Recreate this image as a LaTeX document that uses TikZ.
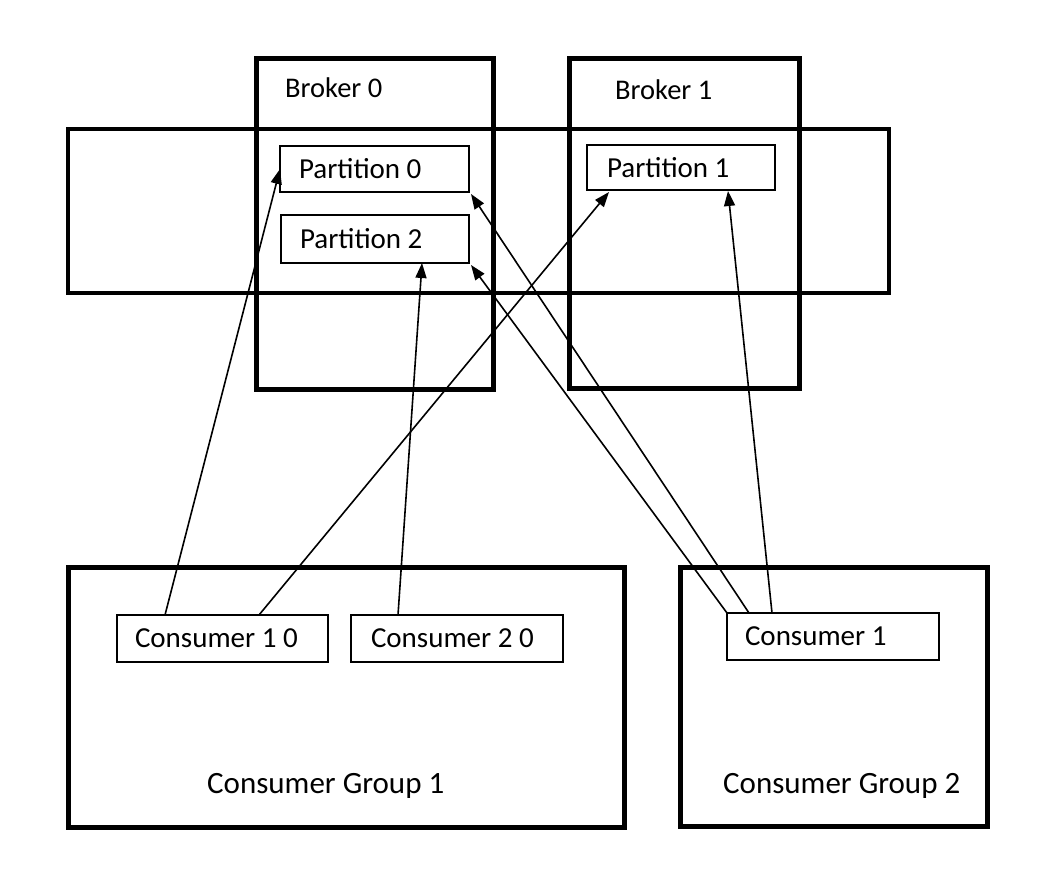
\documentclass[tikz,border=0pt]{standalone}
\usepackage{fontspec}
\setmainfont{Carlito}
\usetikzlibrary{arrows.meta,calc}
\begin{document}
\begin{tikzpicture}[x=1pt,y=-1pt,
  lbl/.style={font=\fontsize{28.5}{32}\selectfont, inner sep=0pt, anchor=base west},
  glbl/.style={font=\fontsize{31}{35}\selectfont, inner sep=0pt, anchor=base west},
  smallbox/.style={draw, line width=2pt, outer sep=0pt, inner xsep=19pt, inner ysep=0pt, align=flush left, anchor=north west, font=\fontsize{29}{33}\selectfont},
  thickbox/.style={draw, line width=5pt, outer sep=0pt, inner sep=0pt, anchor=north west},
  topicbox/.style={draw, line width=3.5pt, outer sep=0pt, inner sep=0pt, anchor=north west},
  conn/.style={line width=1.6pt, -{Triangle[length=15pt,width=11pt]}}]
\useasboundingbox (0,0) rectangle (1056,894);
% topic
\node[topicbox, minimum width=821pt, minimum height=164pt] (topic) at (68,129) {};
% brokers
\node[thickbox, minimum width=237pt, minimum height=331pt] (b0) at (256,58) {};
\node[thickbox, minimum width=230pt, minimum height=330pt] (b1) at (569,58) {};
\node[lbl] (b0lbl) at (285,97) {Broker 0};
\node[lbl] (b1lbl) at (615,99) {Broker 1};
% partitions
\node[smallbox, minimum height=46pt, text width=151pt] (p0) at (280,146) {Partition 0};
\node[smallbox, minimum height=48pt, text width=150pt] (p2) at (281,215) {Partition 2};
\node[smallbox, minimum height=45pt, inner xsep=20pt, text width=148pt] (p1) at (587,145) {Partition 1};
% consumer groups
\node[thickbox, minimum width=556pt, minimum height=260pt] (g1) at (68,567) {};
\node[thickbox, minimum width=307pt, minimum height=259pt] (g2) at (680,567) {};
\node[glbl] (g1lbl) at (207,793) {Consumer Group 1};
\node[glbl] (g2lbl) at (723,793) {Consumer Group 2};
% consumers
\node[smallbox, minimum height=47pt, inner xsep=18pt, text width=175pt] (c10) at (117,615) {Consumer 1 0};
\node[smallbox, minimum height=47pt, inner xsep=20pt, text width=172pt] (c20) at (351,615) {Consumer 2 0};
\node[smallbox, minimum height=47pt, inner xsep=18pt, text width=176pt] (c1) at (727,613) {Consumer 1};
% connectors
\draw[conn] ($(c10.north west)+(48,0)$) -- (p0.west);
\draw[conn] ($(c10.north west)+(142,0)$) -- ($(p1.south west)+(22,2)$);
\draw[conn] ($(c20.north west)+(47,0)$) -- ($(p2.south west)+(141,0)$);
\draw[conn] ($(c1.north west)+(22,0)$) -- ($(p0.south east)+(2,2)$);
\draw[conn] (c1.north west) -- ($(p2.south east)+(2,2)$);
\draw[conn] ($(c1.north west)+(45,0)$) -- ($(p1.south west)+(141,1)$);
\end{tikzpicture}
\end{document}
